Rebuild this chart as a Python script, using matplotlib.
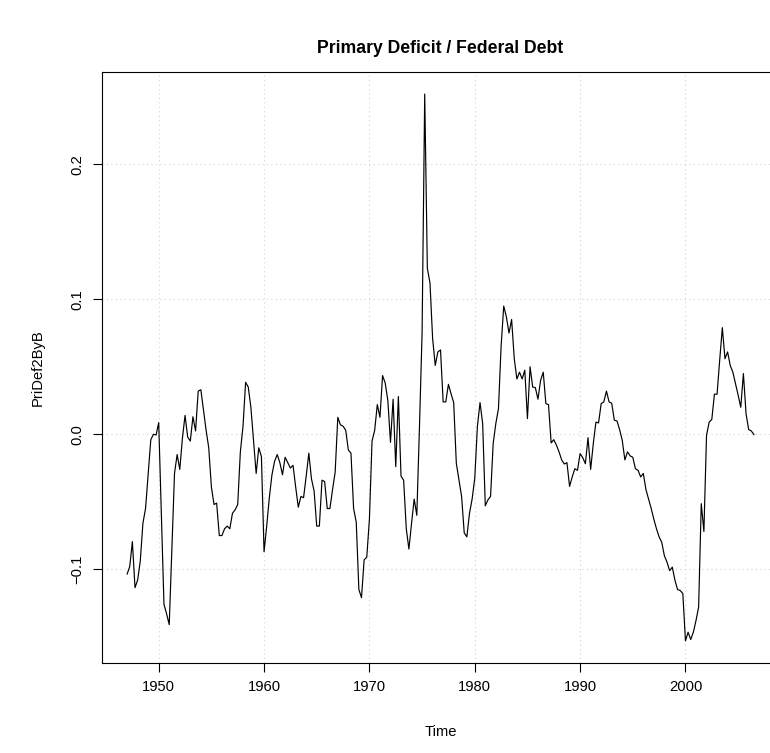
import matplotlib
matplotlib.use("Agg")
import matplotlib.pyplot as plt
import numpy as np

plt.rcParams['font.family'] = ['Liberation Sans', 'DejaVu Sans']

# quarterly values, 1947 Q1 .. 2006 Q3
start_year = 1947.0
pridef2byb = [
    -0.1035, -0.098, -0.0795, -0.1136,        # 1947
    -0.108, -0.094, -0.066, -0.055,           # 1948
    -0.029, -0.004, 0.000, -0.0005,           # 1949
    0.0086, -0.06, -0.126, -0.133,            # 1950
    -0.141, -0.085, -0.029, -0.015,           # 1951
    -0.026, -0.003, 0.014, -0.002,            # 1952
    -0.005, 0.013, 0.0025, 0.032,             # 1953
    0.033, 0.018, 0.003, -0.010,              # 1954
    -0.039, -0.052, -0.051, -0.075,           # 1955
    -0.075, -0.070, -0.068, -0.070,           # 1956
    -0.0585, -0.056, -0.052, -0.013,          # 1957
    0.0057, 0.0385, 0.035, 0.020,             # 1958
    -0.004, -0.029, -0.010, -0.0165,          # 1959
    -0.087, -0.068, -0.047, -0.030,           # 1960
    -0.020, -0.015, -0.021, -0.030,           # 1961
    -0.017, -0.021, -0.025, -0.023,           # 1962
    -0.039, -0.054, -0.046, -0.047,           # 1963
    -0.031, -0.014, -0.033, -0.042,           # 1964
    -0.068, -0.068, -0.034, -0.035,           # 1965
    -0.055, -0.055, -0.041, -0.028,           # 1966
    0.0126, 0.007, 0.006, 0.003,              # 1967
    -0.0116, -0.014, -0.055, -0.065,          # 1968
    -0.115, -0.121, -0.093, -0.091,           # 1969
    -0.063, -0.005, 0.003, 0.022,             # 1970
    0.0126, 0.0435, 0.038, 0.025,             # 1971
    -0.006, 0.026, -0.024, 0.028,             # 1972
    -0.031, -0.034, -0.070, -0.085,           # 1973
    -0.066, -0.048, -0.060, 0.005,            # 1974
    0.075, 0.252, 0.123, 0.112,               # 1975
    0.071, 0.051, 0.061, 0.0625,              # 1976
    0.024, 0.024, 0.037, 0.030,               # 1977
    0.0235, -0.0215, -0.034, -0.046,          # 1978
    -0.073, -0.076, -0.0585, -0.048,          # 1979
    -0.0326, 0.0057, 0.0235, 0.008,           # 1980
    -0.053, -0.0486, -0.046, -0.0067,         # 1981
    0.008, 0.019, 0.065, 0.095,               # 1982
    0.087, 0.075, 0.085, 0.056,               # 1983
    0.041, 0.046, 0.041, 0.0475,              # 1984
    0.0116, 0.050, 0.035, 0.0346,             # 1985
    0.026, 0.040, 0.046, 0.0227,              # 1986
    0.022, -0.0064, -0.004, -0.008,           # 1987
    -0.013, -0.019, -0.022, -0.021,           # 1988
    -0.0386, -0.0316, -0.0255, -0.0267,       # 1989
    -0.0143, -0.0173, -0.0218, -0.0025,       # 1990
    -0.026, -0.007, 0.009, 0.0084,            # 1991
    0.0227, 0.024, 0.032, 0.024,              # 1992
    0.023, 0.0104, 0.0099, 0.0035,            # 1993
    -0.0045, -0.019, -0.013, -0.016,          # 1994
    -0.017, -0.0255, -0.0267, -0.0316,        # 1995
    -0.029, -0.041, -0.048, -0.055,           # 1996
    -0.063, -0.070, -0.076, -0.080,           # 1997
    -0.090, -0.0947, -0.101, -0.0984,         # 1998
    -0.108, -0.115, -0.1157, -0.118,          # 1999
    -0.153, -0.1466, -0.152, -0.1466,         # 2000
    -0.138, -0.128, -0.0514, -0.072,          # 2001
    -0.0007, 0.009, 0.011, 0.0297,            # 2002
    0.0297, 0.055, 0.079, 0.056,              # 2003
    0.061, 0.051, 0.046, 0.0376,              # 2004
    0.029, 0.020, 0.045, 0.0153,              # 2005
    0.0035, 0.0025, -0.0002,                  # 2006
]
x_ticks = [1950, 1960, 1970, 1980, 1990, 2000]
y_ticks = [-0.1, 0.0, 0.1, 0.2]
y_ticklabels = ["\u22120.1", "0.0", "0.1", "0.2"]

valeurs = np.array(pridef2byb)
temps = start_year + np.arange(len(valeurs)) / 4.0

fig = plt.figure(figsize=(7.70, 7.53), dpi=100)
# le cadre deborde a droite comme sur l'image d'origine
ax = fig.add_axes([0.1325, 0.1199, 0.8792, 0.7842])

# grille pointillee facon R
for xt in x_ticks:
    ax.axvline(xt, color='lightgray', linestyle=(0, (1, 3)), linewidth=0.8, zorder=0)
for yt in y_ticks:
    ax.axhline(yt, color='lightgray', linestyle=(0, (1, 3)), linewidth=0.8, zorder=0)

ax.plot(temps, valeurs, color='black', linewidth=0.85)

# limites avec 4% de marge comme R
xr = temps.max() - temps.min()
yr = valeurs.max() - valeurs.min()
ax.set_xlim(temps.min() - 0.04 * xr, temps.max() + 0.04 * xr)
ax.set_ylim(valeurs.min() - 0.04 * yr, valeurs.max() + 0.04 * yr)

ax.set_xticks(x_ticks)
ax.set_yticks(y_ticks)
ax.set_yticklabels(y_ticklabels, rotation=90, va='center')
ax.tick_params(direction='out', length=6.4, width=0.8, labelsize=10.6, pad=6.4)
for s in ax.spines.values():
    s.set_linewidth(0.8)

ax.set_xlabel('Time', fontsize=10.6, labelpad=22)
ax.set_ylabel('PriDef2ByB', fontsize=10.6, labelpad=18)
ax.set_title('Primary Deficit / Federal Debt', fontsize=12.7, fontweight='bold', pad=14)

plt.savefig('out.png', dpi=100)
